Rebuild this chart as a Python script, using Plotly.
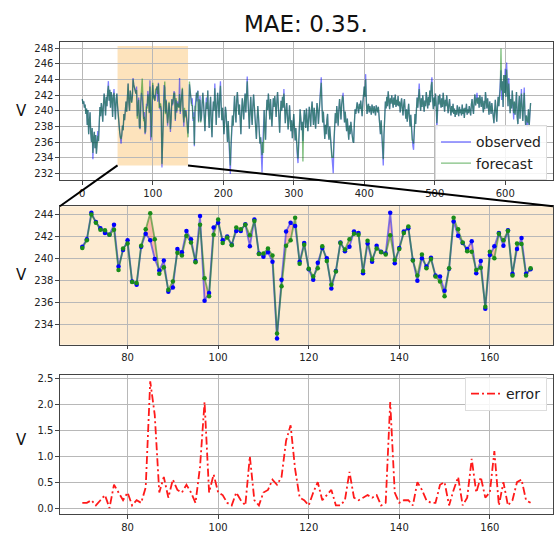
import plotly.graph_objects as go

# ---------------- data ----------------
obs_head = [241.5, 240.9, 241.2, 240.4, 240.8, 239.6, 240.3, 238.2, 240.1, 237.0,
            238.6, 239.8, 237.1, 236.0, 237.8, 233.8, 236.5, 237.3, 235.2, 236.9,
            234.5, 235.8, 237.4, 236.1, 238.9, 240.5, 239.3, 241.0, 240.2, 238.6,
            240.8, 242.2, 241.0, 239.4, 241.8, 240.6, 242.5, 243.8, 241.3, 242.7,
            240.4, 242.4, 241.6, 239.2, 241.9, 242.8, 240.7, 238.9, 241.5, 242.2,
            240.6, 239.0, 238.2, 237.3, 236.6, 235.8, 236.9, 238.1, 237.5, 239.6,
            238.8, 240.7, 241.2, 239.9, 242.3, 243.5, 241.1, 240.0, 242.6, 241.5]

zoom_start = 70
obs_mid = [241.1, 241.8, 244.2, 243.35, 242.8, 242.35, 242.2, 243.1, 239.3, 240.8,
           241.7, 237.95, 237.65, 241.1, 242.3, 241.7, 240.0, 238.95, 239.85, 237.0,
           237.4, 240.9, 240.6, 242.55, 241.8, 239.8, 243.9, 236.2, 236.9, 242.85,
           243.3, 241.7, 242.05, 241.3, 242.55, 242.55, 243.15, 241.15, 243.6, 240.5,
           240.2, 240.6, 239.75, 232.75, 238.1, 242.5, 243.3, 243.0, 239.75, 241.45,
           239.05, 238.1, 239.65, 241.0, 240.05, 237.3, 238.9, 241.5, 240.7, 241.1,
           242.5, 242.35, 238.7, 241.4, 239.75, 241.2, 240.65, 240.5, 244.2, 239.6,
           241.0, 242.5, 242.8, 239.9, 238.0, 240.05, 239.3, 240.1, 238.5, 238.4,
           237.1, 239.1, 243.4, 242.1, 241.45, 240.9, 241.6, 238.7, 239.8, 235.45,
           240.35, 241.15, 242.35, 241.2, 242.6, 238.65, 240.9, 241.9, 238.65, 239.05]
fc_mid = [241.0, 241.7, 244.05, 243.3, 242.65, 242.6, 242.2, 242.65, 239.0, 240.95,
          241.4, 237.9, 237.8, 241.2, 242.7, 244.15, 241.8, 238.65, 239.25, 237.2,
          237.95, 240.55, 240.3, 242.1, 241.5, 239.7, 243.1, 238.25, 236.6, 242.2,
          243.6, 241.45, 241.95, 241.25, 242.85, 242.7, 243.1, 242.15, 243.45, 240.45,
          240.5, 240.95, 240.3, 233.2, 237.5, 241.2, 241.7, 243.75, 239.55, 241.3,
          239.1, 238.4, 239.15, 241.15, 239.8, 237.65, 238.85, 241.45, 240.85, 241.8,
          242.3, 242.2, 238.9, 241.65, 239.95, 240.95, 240.6, 240.4, 242.15, 239.9,
          240.9, 242.35, 242.95, 239.85, 238.5, 240.4, 239.15, 240.0, 238.4, 237.95,
          236.6, 239.15, 243.75, 242.7, 241.5, 240.7, 240.65, 239.0, 239.2, 235.65,
          240.65, 240.05, 242.3, 241.7, 242.55, 238.5, 241.4, 241.35, 238.5, 239.15]

obs_tail = [240.9, 242.3, 241.0, 238.5, 237.4, 239.9, 241.7, 240.2, 242.6, 239.5,
            237.8, 240.4, 241.8, 238.3, 236.6, 239.7, 241.2, 240.0, 243.5, 240.8,
            238.2, 240.6, 242.3, 241.0, 239.1, 241.9, 243.8, 240.7, 238.8, 240.4,
            239.2, 237.0, 238.6, 240.5, 239.7, 237.3, 236.0, 238.7, 236.4, 234.2,
            231.9, 235.2, 237.6, 239.4, 238.1, 240.5, 241.9, 240.0, 238.5, 241.3,
            242.4, 241.0, 239.5, 240.8, 238.2, 237.0, 239.8, 241.6, 240.3, 238.9,
            241.1, 242.2, 239.8, 242.7, 244.4, 241.5, 239.0, 237.7, 240.2, 241.8,
            239.5, 238.2, 240.6, 242.1, 240.7, 239.3, 237.9, 236.4, 238.8, 240.6,
            239.2, 237.5, 235.8, 236.6, 234.7, 232.1, 235.4, 238.3, 240.1, 237.6,
            236.3, 239.6, 241.4, 240.1, 242.2, 240.6, 238.9, 241.5, 240.2, 238.0,
            239.8, 241.6, 240.5, 241.9, 240.8, 239.2, 241.1, 242.4, 240.9, 238.6,
            237.2, 239.7, 241.3, 240.0, 241.8, 240.4, 242.8, 240.6, 238.4, 239.9,
            241.0, 239.4, 237.6, 238.9, 240.7, 239.0, 237.4, 238.8, 236.5, 238.1,
            239.6, 237.9, 236.2, 237.8, 235.4, 234.3, 233.3, 236.8, 238.9, 240.2,
            239.0, 237.5, 238.6, 236.1, 238.4, 240.1, 239.2, 237.8, 240.3, 239.0,
            237.4, 238.9, 240.5, 239.3, 238.0, 240.1, 241.2, 239.6, 238.2, 240.4,
            239.1, 237.7, 239.5, 241.0, 240.0, 238.3, 239.8, 241.6, 242.4, 244.3,
            240.8, 238.5, 239.9, 237.6, 236.4, 238.2, 237.0, 238.8, 239.6, 237.1,
            236.3, 238.0, 236.8, 235.2, 234.0, 233.1, 232.0, 235.6, 238.3, 239.7,
            238.4, 240.6, 239.5, 238.1, 240.2, 241.5, 240.3, 238.9, 240.8, 241.9,
            242.3, 240.0, 238.5, 239.9, 238.2, 237.4, 239.0, 237.5, 236.3, 238.1,
            237.0, 238.6, 237.3, 236.8, 236.1, 235.9, 238.4, 240.2, 239.6, 240.8,
            241.1, 240.3, 239.7, 240.9, 240.2, 241.3, 240.4, 239.3, 241.0, 242.2,
            243.1, 241.8, 244.7, 241.2, 239.6, 240.5, 240.9, 239.8, 240.6, 240.2,
            239.5, 240.8, 240.3, 239.7, 240.6, 240.1, 239.4, 240.7, 240.3, 239.8,
            240.5, 239.6, 238.4, 237.0, 238.8, 236.3, 234.6, 233.0, 236.9, 239.5,
            241.2, 240.3, 241.8, 240.6, 242.5, 241.3, 240.2, 241.6, 240.9, 242.0,
            241.1, 240.4, 241.7, 240.8, 242.1, 240.5, 241.4, 240.7, 241.9, 240.6,
            241.2, 239.8, 240.9, 241.6, 240.3, 239.4, 240.8, 241.5, 240.1, 239.0,
            240.2, 238.6, 239.8, 240.9, 239.3, 238.0, 239.5, 237.6, 236.2, 235.5,
            235.0, 237.4, 239.6, 238.3, 240.1, 241.7, 240.4, 242.2, 243.5, 241.2,
            240.0, 241.6, 240.5, 242.0, 240.8, 239.9, 241.3, 240.6, 242.4, 241.0,
            240.3, 241.8, 240.7, 242.6, 241.1, 243.2, 244.3, 241.5, 240.2, 241.7,
            240.6, 242.2, 241.0, 237.6, 240.3, 241.9, 240.8, 242.1, 241.2, 240.4,
            241.6, 240.5, 242.3, 241.0, 239.9, 241.4, 240.6, 242.0, 240.9, 239.7,
            240.8, 241.5, 240.2, 239.4, 240.6, 239.8, 240.9, 239.6, 240.3, 239.2,
            240.1, 239.5, 240.7, 239.9, 239.3, 240.5, 239.7, 240.2, 239.4, 240.8,
            239.6, 240.3, 239.1, 240.4, 239.8, 240.9, 239.5, 240.2, 239.7, 240.6,
            240.1, 239.4, 240.8, 241.5, 240.3, 239.6, 241.2, 242.1, 240.7, 241.6,
            242.3, 240.9, 241.7, 240.4, 242.0, 241.2, 240.5, 241.8, 240.6, 239.8,
            241.3, 240.2, 242.4, 241.0, 240.3, 241.6, 240.8, 239.5, 241.2, 240.4,
            239.6, 241.0, 240.2, 239.1, 238.4, 240.0, 241.4, 239.8, 238.6, 240.5,
            241.8, 240.6, 242.9, 243.6, 245.2, 241.4, 243.8, 240.5, 244.6, 242.3,
            245.4, 241.8, 246.2, 243.5, 240.6, 244.2, 242.0, 239.7, 241.5, 240.3,
            242.6, 240.1, 238.9, 241.2, 239.5, 240.8, 242.4, 239.2, 238.3, 240.6,
            241.9, 239.0, 240.4, 242.8, 240.2, 238.7, 240.9, 243.0, 239.6, 238.1,
            239.4, 237.9, 238.5, 240.2, 238.0, 239.6, 241.0]

# forecast differs from observed at these indices (outside the zoomed window)
fc_override_idx = [15, 22, 37, 45, 55, 64, 176, 188, 196, 209, 210, 211, 234, 254, 255,
                   256, 257, 286, 305, 306, 313, 339, 355, 356, 357, 370, 402, 426, 427,
                   469, 470, 478, 496, 503, 560, 593, 594, 595, 600, 602, 605, 612, 623,
                   627, 631]
fc_override_val = [234.6, 236.8, 243.2, 242.3, 236.4, 242.8, 241.1, 242.9, 243.2, 234.9,
                   233.0, 235.8, 243.8, 235.6, 234.3, 236.0, 234.6, 242.2, 234.9, 233.9,
                   233.5, 243.6, 234.2, 234.0, 236.2, 241.7, 244.0, 235.3, 233.8,
                   236.3, 235.8, 242.8, 243.7, 238.4, 241.7, 242.9, 248.0, 242.6, 244.6,
                   245.3, 243.5, 239.7, 242.2, 242.3, 238.6]

title_text = "MAE: 0.35."
zoom_box = [50, 150, 233.0, 248.3]   # x0, x1, y0, y1 of highlighted window

# ---------------- derived series ----------------
observed = obs_head + obs_mid + obs_tail
forecast = obs_head + fc_mid + obs_tail
for i, v in zip(fc_override_idx, fc_override_val):
    forecast[i] = v
x_all = list(range(len(observed)))
x_mid = list(range(zoom_start, zoom_start + len(obs_mid)))
error = [abs(a - b) for a, b in zip(obs_mid, fc_mid)]

# ---------------- layout geometry ----------------
W, H = 554, 533
xdom = [60 / W, 1.0]
ydom1 = [1 - 182 / H, 1 - 41 / H]
ydom2 = [1 - 350 / H, 1 - 208.5 / H]
ydom3 = [1 - 523 / H, 1 - 381 / H]
xr1 = [-31.8, 667.8]
yr1 = [231.1, 248.8]
xr2 = [65.05, 173.95]
yr2 = [232.18, 244.8]
yr3 = [-0.12, 2.57]

BLUE = "#0000ff"
GREEN = "#008000"

fig = go.Figure()

# top panel
fig.add_trace(go.Scatter(x=x_all, y=observed, mode="lines", name="observed",
                         line=dict(color=BLUE, width=1.3), opacity=0.5,
                         xaxis="x", yaxis="y", legend="legend"))
fig.add_trace(go.Scatter(x=x_all, y=forecast, mode="lines", name="forecast",
                         line=dict(color=GREEN, width=1.3), opacity=0.5,
                         xaxis="x", yaxis="y", legend="legend"))

# middle panel: fill between
fig.add_trace(go.Scatter(x=x_mid, y=fc_mid, mode="lines", line=dict(width=0, color="rgba(0,0,0,0)"),
                         showlegend=False, hoverinfo="skip", xaxis="x2", yaxis="y2"))
fig.add_trace(go.Scatter(x=x_mid, y=obs_mid, mode="lines", line=dict(width=0, color="rgba(0,0,0,0)"),
                         fill="tonexty", fillcolor="rgba(255,60,60,0.28)",
                         showlegend=False, hoverinfo="skip", xaxis="x2", yaxis="y2"))
fig.add_trace(go.Scatter(x=x_mid, y=obs_mid, mode="lines", line=dict(color=BLUE, width=1.8),
                         opacity=0.5, showlegend=False, xaxis="x2", yaxis="y2"))
fig.add_trace(go.Scatter(x=x_mid, y=fc_mid, mode="lines", line=dict(color=GREEN, width=1.8),
                         opacity=0.5, showlegend=False, xaxis="x2", yaxis="y2"))
fig.add_trace(go.Scatter(x=x_mid, y=obs_mid, mode="markers", marker=dict(color=BLUE, size=4.5),
                         showlegend=False, xaxis="x2", yaxis="y2"))
fig.add_trace(go.Scatter(x=x_mid, y=fc_mid, mode="markers", marker=dict(color="#1a8c1a", size=4.5),
                         showlegend=False, xaxis="x2", yaxis="y2"))

# bottom panel
fig.add_trace(go.Scatter(x=x_mid, y=error, mode="lines", name="error",
                         line=dict(color="#ff1a1a", width=1.8, dash="8px,3px,2px,3px"),
                         xaxis="x3", yaxis="y3", legend="legend2"))

tickfont = dict(family="DejaVu Sans", size=10, color="#222")
common = dict(showgrid=True, gridcolor="#b8b8b8", gridwidth=1, showline=True, mirror=True,
              linecolor="#444", linewidth=1, ticks="outside", ticklen=3.5, tickcolor="#444",
              tickfont=tickfont, zeroline=False)

def to_paper(xv, yv, xr, xd, yr, yd):
    px = xd[0] + (xv - xr[0]) / (xr[1] - xr[0]) * (xd[1] - xd[0])
    py = yd[0] + (yv - yr[0]) / (yr[1] - yr[0]) * (yd[1] - yd[0])
    return px, py

bl = to_paper(zoom_box[0], zoom_box[2], xr1, xdom, yr1, ydom1)
br = to_paper(zoom_box[1], zoom_box[2], xr1, xdom, yr1, ydom1)

shapes = [
    dict(type="rect", xref="x", yref="y", x0=zoom_box[0], x1=zoom_box[1],
         y0=zoom_box[2], y1=zoom_box[3], fillcolor="#fde3bc", line=dict(width=0), layer="below"),
    dict(type="rect", xref="x2 domain", yref="y2 domain", x0=0, x1=1, y0=0, y1=1,
         fillcolor="#fdebd1", line=dict(width=0), layer="below"),
    dict(type="line", xref="paper", yref="paper", x0=bl[0], y0=bl[1], x1=xdom[0], y1=ydom2[1],
         line=dict(color="black", width=2), layer="above"),
    dict(type="line", xref="paper", yref="paper", x0=br[0], y0=br[1], x1=xdom[1], y1=ydom2[1],
         line=dict(color="black", width=2), layer="above"),
]

annotations = [
    dict(text=title_text, x=(xdom[0] + xdom[1]) / 2, y=1 - 22 / H, xref="paper", yref="paper",
         showarrow=False, font=dict(size=23, color="#111"), xanchor="center", yanchor="middle"),
]
for yc in [(ydom1[0] + ydom1[1]) / 2, (ydom2[0] + ydom2[1]) / 2, 1 - 447 / H]:
    annotations.append(dict(text="V", x=22 / W, y=yc, xref="paper", yref="paper", showarrow=False,
                            font=dict(size=15, color="#111"), xanchor="center", yanchor="middle"))

fig.update_layout(
    width=W, height=H, margin=dict(l=0, r=0, t=0, b=0),
    paper_bgcolor="white", plot_bgcolor="white",
    font=dict(family="DejaVu Sans", color="#222"),
    xaxis=dict(domain=xdom, range=xr1, anchor="y", tickmode="array",
               tickvals=[0, 100, 200, 300, 400, 500, 600], **common),
    yaxis=dict(domain=ydom1, range=yr1, anchor="x", tick0=232, dtick=2, **common),
    xaxis2=dict(domain=xdom, range=xr2, anchor="y2", tick0=80, dtick=20, **common),
    yaxis2=dict(domain=ydom2, range=yr2, anchor="x2", tick0=234, dtick=2, **common),
    xaxis3=dict(domain=xdom, range=xr2, anchor="y3", tick0=80, dtick=20, **common),
    yaxis3=dict(domain=ydom3, range=yr3, anchor="x3", tick0=0, dtick=0.5, tickformat=".1f", **common),
    legend=dict(x=548 / W, xanchor="right", y=1 - 126 / H, yanchor="top", traceorder="normal",
                bgcolor="rgba(255,255,255,0.85)", bordercolor="#dddddd", borderwidth=1,
                font=dict(size=14, color="#222"), itemwidth=30),
    legend2=dict(x=548 / W, xanchor="right", y=1 - 383 / H, yanchor="top", traceorder="normal",
                 bgcolor="rgba(255,255,255,0.85)", bordercolor="#dddddd", borderwidth=1,
                 font=dict(size=14, color="#222"), itemwidth=30),
    shapes=shapes, annotations=annotations, showlegend=True,
)

fig.write_html("out.html")
